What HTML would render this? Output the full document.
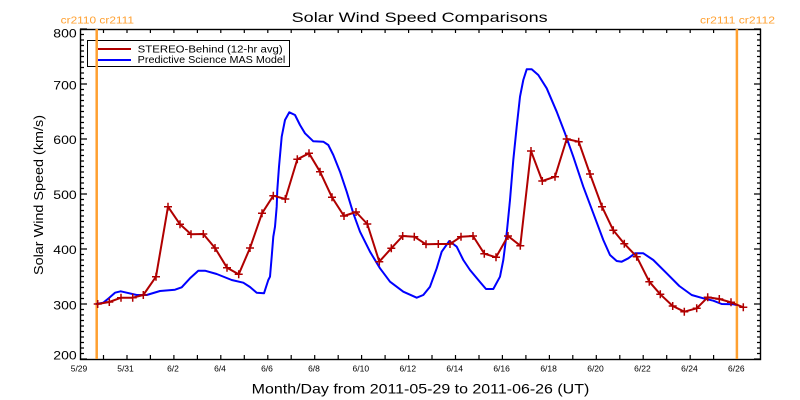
<!DOCTYPE html>
<html><head><meta charset="utf-8"><style>
html,body{margin:0;padding:0;background:#fff;}
svg{display:block;}
text{font-family:"Liberation Sans",sans-serif;}
</style></head><body>
<svg width="800" height="400" viewBox="0 0 800 400" xmlns="http://www.w3.org/2000/svg">
<rect x="0" y="0" width="800" height="400" fill="#fff"/>
<!-- Title -->
<text x="291.7" y="22" font-size="14" textLength="256" lengthAdjust="spacingAndGlyphs" fill="#000">Solar Wind Speed Comparisons</text>
<!-- cr labels -->
<text x="60.7" y="23.3" font-size="10.5" textLength="73.3" lengthAdjust="spacingAndGlyphs" fill="#FFA030">cr2110 cr2111</text>
<text x="700" y="23.3" font-size="10.5" textLength="75" lengthAdjust="spacingAndGlyphs" fill="#FFA030">cr2111 cr2112</text>

<!-- Frame -->
<rect x="80.5" y="29.5" width="680" height="330" fill="none" stroke="#000" stroke-width="1.4"/>

<!-- Y ticks left & right -->
<g stroke="#000" stroke-width="1.2">
<path d="M80 29H87M80 84H87M80 139H87M80 194H87M80 249H87M80 304H87M80 359H87
M761 29H754M761 84H754M761 139H754M761 194H754M761 249H754M761 304H754M761 359H754"/>
<path d="M80 34.5H84M80 40H84M80 45.5H84M80 51H84M80 56.5H84M80 62H84M80 67.5H84M80 73H84M80 78.5H84
M80 89.5H84M80 95H84M80 100.5H84M80 106H84M80 111.5H84M80 117H84M80 122.5H84M80 128H84M80 133.5H84
M80 144.5H84M80 150H84M80 155.5H84M80 161H84M80 166.5H84M80 172H84M80 177.5H84M80 183H84M80 188.5H84
M80 199.5H84M80 205H84M80 210.5H84M80 216H84M80 221.5H84M80 227H84M80 232.5H84M80 238H84M80 243.5H84
M80 254.5H84M80 260H84M80 265.5H84M80 271H84M80 276.5H84M80 282H84M80 287.5H84M80 293H84M80 298.5H84
M80 309.5H84M80 315H84M80 320.5H84M80 326H84M80 331.5H84M80 337H84M80 342.5H84M80 348H84M80 353.5H84
M761 34.5H757M761 40H757M761 45.5H757M761 51H757M761 56.5H757M761 62H757M761 67.5H757M761 73H757M761 78.5H757
M761 89.5H757M761 95H757M761 100.5H757M761 106H757M761 111.5H757M761 117H757M761 122.5H757M761 128H757M761 133.5H757
M761 144.5H757M761 150H757M761 155.5H757M761 161H757M761 166.5H757M761 172H757M761 177.5H757M761 183H757M761 188.5H757
M761 199.5H757M761 205H757M761 210.5H757M761 216H757M761 221.5H757M761 227H757M761 232.5H757M761 238H757M761 243.5H757
M761 254.5H757M761 260H757M761 265.5H757M761 271H757M761 276.5H757M761 282H757M761 287.5H757M761 293H757M761 298.5H757
M761 309.5H757M761 315H757M761 320.5H757M761 326H757M761 331.5H757M761 337H757M761 342.5H757M761 348H757M761 353.5H757"/>
<!-- X ticks top & bottom, every day -->
<path d="M103.5 359V355M127 359V355M150.4 359V355M173.9 359V355M197.4 359V355M220.8 359V355M244.3 359V355M267.8 359V355M291.2 359V355M314.7 359V355M338.2 359V355M361.6 359V355M385.1 359V355M408.6 359V355M432 359V355M455.5 359V355M479 359V355M502.4 359V355M525.9 359V355M549.4 359V355M572.8 359V355M596.3 359V355M619.8 359V355M643.2 359V355M666.7 359V355M690.2 359V355M713.6 359V355M737.1 359V355
M103.5 29V33M127 29V33M150.4 29V33M173.9 29V33M197.4 29V33M220.8 29V33M244.3 29V33M267.8 29V33M291.2 29V33M314.7 29V33M338.2 29V33M361.6 29V33M385.1 29V33M408.6 29V33M432 29V33M455.5 29V33M479 29V33M502.4 29V33M525.9 29V33M549.4 29V33M572.8 29V33M596.3 29V33M619.8 29V33M643.2 29V33M666.7 29V33M690.2 29V33M713.6 29V33M737.1 29V33"/>
</g>

<!-- Y tick labels -->
<g font-size="12" fill="#000" text-anchor="end">
<text x="76.7" y="37.7" textLength="23.4" lengthAdjust="spacingAndGlyphs">800</text>
<text x="76.7" y="89.3" textLength="23.4" lengthAdjust="spacingAndGlyphs">700</text>
<text x="76.7" y="143.8" textLength="23.4" lengthAdjust="spacingAndGlyphs">600</text>
<text x="76.7" y="198.8" textLength="23.4" lengthAdjust="spacingAndGlyphs">500</text>
<text x="76.7" y="253.8" textLength="23.4" lengthAdjust="spacingAndGlyphs">400</text>
<text x="76.7" y="309.3" textLength="23.4" lengthAdjust="spacingAndGlyphs">300</text>
<text x="76.7" y="359.3" textLength="23.4" lengthAdjust="spacingAndGlyphs">200</text>
</g>

<!-- X tick labels -->
<g font-size="8.5" fill="#000" text-anchor="middle">
<text x="79" y="371.7">5/29</text>
<text x="125.5" y="371.7">5/31</text>
<text x="173" y="371.7">6/2</text>
<text x="220" y="371.7">6/4</text>
<text x="267" y="371.7">6/6</text>
<text x="314" y="371.7">6/8</text>
<text x="360.8" y="371.7">6/10</text>
<text x="407.8" y="371.7">6/12</text>
<text x="454.7" y="371.7">6/14</text>
<text x="501.6" y="371.7">6/16</text>
<text x="548.6" y="371.7">6/18</text>
<text x="595.5" y="371.7">6/20</text>
<text x="642.4" y="371.7">6/22</text>
<text x="689.4" y="371.7">6/24</text>
<text x="736.3" y="371.7">6/26</text>
</g>

<!-- Axis titles -->
<text x="251.7" y="393.3" font-size="14" textLength="337.6" lengthAdjust="spacingAndGlyphs" fill="#000">Month/Day from 2011-05-29 to 2011-06-26 (UT)</text>
<text transform="translate(43,275) rotate(-90)" x="0" y="0" font-size="13" textLength="160" lengthAdjust="spacingAndGlyphs" fill="#000">Solar Wind Speed (km/s)</text>

<!-- Legend -->
<rect x="87.5" y="40.5" width="202" height="26" fill="#fff" stroke="#000" stroke-width="1"/>
<line x1="98" y1="49" x2="131" y2="49" stroke="#B00000" stroke-width="2"/>
<line x1="98" y1="60" x2="131" y2="60" stroke="#0000FF" stroke-width="2"/>
<text x="137.7" y="52.7" font-size="10" textLength="145" lengthAdjust="spacingAndGlyphs" fill="#000">STEREO-Behind (12-hr avg)</text>
<text x="137.7" y="63" font-size="10" textLength="147.6" lengthAdjust="spacingAndGlyphs" fill="#000">Predictive Science MAS Model</text>

<!-- Orange CR lines -->
<line x1="96.7" y1="29" x2="96.7" y2="359" stroke="#FFA030" stroke-width="2.5"/>
<line x1="736.9" y1="29" x2="736.9" y2="359" stroke="#FFA030" stroke-width="2.5"/>

<!-- Blue model -->
<polyline fill="none" stroke="#0000FF" stroke-width="2" stroke-linejoin="round" points="96,304 103.3,302.7 109,298 115,292.7 120.7,291.3 126.7,292.7 136.7,295 146.7,295 160,291 175,289.7 181.7,287.3 190,278.3 198.3,270.7 205,270.7 216.7,274 231.7,280 243.3,282.7 250,287 256.7,292.7 264,293.3 268.3,280 270,276.7 271.7,256.7 273.3,236.7 275,226.7 276.7,206.7 277.3,190 279,166.7 281.7,136.7 285,120 289.3,112.3 295,115 300,125 305,133.3 313.3,141.3 323.3,141.7 328.3,145 333.3,155 340,171.7 346.7,191.7 353.3,213.3 360,231.7 370,251.7 380,268.3 390,281.7 403.3,291.7 416.7,297.7 423.3,295 430,286.7 436.7,268.3 441.7,251.7 449.3,241 456.7,246.7 463.3,260 470,270 480,282 486,289 493.3,289 500,276.7 503.3,260 506.7,233.3 510,200 513.3,160 516.7,126.7 520,96.7 523.3,80 526.7,69.3 531.7,69.3 538.3,75 546.7,88.3 556.7,111.7 565,133.3 573.3,156.7 583.3,186.7 593.3,213.3 603.3,240 610,255 616.7,261 621.7,261.7 628.3,258.3 635,253.3 643.3,253.3 653.3,260 666.7,273.3 679.3,286 691.7,295 703.3,298.3 713.3,300.7 721.7,304 733.3,304.3 736.7,305"/>

<!-- Red STEREO -->
<polyline id="red" fill="none" stroke="#B00000" stroke-width="2" stroke-linejoin="round" points="97.7,304 109.3,302 121,297.7 132.7,297.7 143.3,295 156,276.7 168,206.7 180,224.3 191,234.3 203.3,234 215,248 227,267.7 238.7,274.3 250,248 262,213.3 273.3,195.7 285.3,199 297.3,159.3 309,153.3 320,171.7 332,197.3 344,216 356,212 367.3,224 379.3,261.7 391.3,248.3 402.7,236 414.3,236.7 426,244.3 438.3,244 450,244 461,236.7 473,236 484.3,253.7 496,257.3 508,236 520.3,245.7 531,151 542.3,181 555,176.7 566.7,139 578.7,141.7 590,174 602,206.7 613.3,230.3 624.3,243.7 636.7,256.7 649.3,281.7 660.3,294.3 672.7,306 684.3,311.7 696.7,308.3 707.7,297.3 719.3,299 731,302.3 743.3,307.3"/>
<path fill="none" stroke="#B00000" stroke-width="1.5" d="
M93.7 304h8m-4 -4v8 M105.3 302h8m-4 -4v8 M117 297.7h8m-4 -4v8 M128.7 297.7h8m-4 -4v8 M139.3 295h8m-4 -4v8
M152 276.7h8m-4 -4v8 M164 206.7h8m-4 -4v8 M176 224.3h8m-4 -4v8 M187 234.3h8m-4 -4v8 M199.3 234h8m-4 -4v8
M211 248h8m-4 -4v8 M223 267.7h8m-4 -4v8 M234.7 274.3h8m-4 -4v8 M246 248h8m-4 -4v8 M258 213.3h8m-4 -4v8
M269.3 195.7h8m-4 -4v8 M281.3 199h8m-4 -4v8 M293.3 159.3h8m-4 -4v8 M305 153.3h8m-4 -4v8 M316 171.7h8m-4 -4v8
M328 197.3h8m-4 -4v8 M340 216h8m-4 -4v8 M352 212h8m-4 -4v8 M363.3 224h8m-4 -4v8 M375.3 261.7h8m-4 -4v8
M387.3 248.3h8m-4 -4v8 M398.7 236h8m-4 -4v8 M410.3 236.7h8m-4 -4v8 M422 244.3h8m-4 -4v8 M434.3 244h8m-4 -4v8
M446 244h8m-4 -4v8 M457 236.7h8m-4 -4v8 M469 236h8m-4 -4v8 M480.3 253.7h8m-4 -4v8 M492 257.3h8m-4 -4v8
M504 236h8m-4 -4v8 M516.3 245.7h8m-4 -4v8 M527 151h8m-4 -4v8 M538.3 181h8m-4 -4v8 M551 176.7h8m-4 -4v8
M562.7 139h8m-4 -4v8 M574.7 141.7h8m-4 -4v8 M586 174h8m-4 -4v8 M598 206.7h8m-4 -4v8 M609.3 230.3h8m-4 -4v8
M620.3 243.7h8m-4 -4v8 M632.7 256.7h8m-4 -4v8 M645.3 281.7h8m-4 -4v8 M656.3 294.3h8m-4 -4v8 M668.7 306h8m-4 -4v8
M680.3 311.7h8m-4 -4v8 M692.7 308.3h8m-4 -4v8 M703.7 297.3h8m-4 -4v8 M715.3 299h8m-4 -4v8 M727 302.3h8m-4 -4v8
M739.3 307.3h8m-4 -4v8"/>
</svg>
</body></html>
